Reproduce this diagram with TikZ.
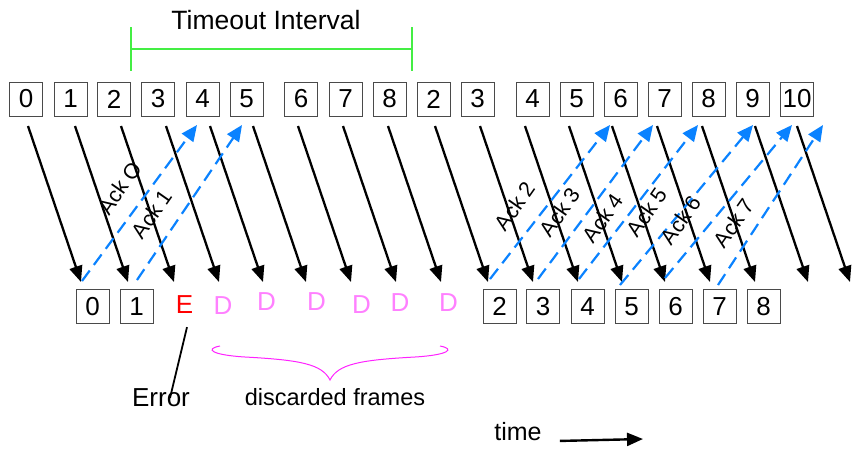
\documentclass[tikz,border=0pt]{standalone}
\usepackage{fontspec}
\setmainfont{Liberation Sans}
\usetikzlibrary{arrows.meta, calc}
\definecolor{ackBlue}{HTML}{0A82FF}
\definecolor{dropPink}{HTML}{FF80FF}
\definecolor{braceMagenta}{HTML}{FF22FF}
\definecolor{timerGreen}{HTML}{44EE44}
\definecolor{frameBorder}{HTML}{4A4A4A}
\tikzset{
  frame/.style={
    draw=frameBorder, line width=0.9pt, inner sep=0pt,
    minimum width=33pt, minimum height=34pt,
    font=\fontsize{26}{28}\selectfont,
  },
  errmark/.style={text=red, inner sep=2pt, font=\fontsize{26}{28}\selectfont},
  discard/.style={text=dropPink, inner sep=2pt, font=\fontsize{26}{28}\selectfont},
  acklabel/.style={rotate=55, inner sep=1pt, font=\fontsize{21.5}{24}\selectfont},
  caption/.style={inner sep=2pt, font=\fontsize{26}{28}\selectfont},
  data/.style={-{Triangle[length=16pt, width=13pt]}, line width=2.3pt},
  ack/.style={-{Triangle[length=16pt, width=14pt]}, line width=2.2pt,
    color=ackBlue, dash pattern=on 13pt off 7pt},
  timer/.style={draw=timerGreen, line width=1.3pt},
}
\begin{document}
\begin{tikzpicture}[x=1pt, y=-1pt]
  \useasboundingbox (0,0) rectangle (854,448);

  % === Timeout interval bracket ===
  \draw[timer] (131,27) -- (131,71) (131,49) -- (412,49) (412,27) -- (412,71);
  \node[caption, font=\fontsize{26.5}{30}\selectfont] (timeout) at (266,20) {Timeout Interval};

  % === Sender: frames sent, with their transit arrows ===
  \foreach \lbl/\xx/\ax [count=\i from 0] in
    {0/26/28, 1/70.5/75, 2/114/121, 3/158/166, 4/202.5/210, 5/246.5/253,
     6/301/298, 7/345.5/343, 8/389.5/388, 2/433.5/435, 3/477.5/480,
     4/532.5/525, 5/576.5/569, 6/620.5/612, 7/664.5/657, 8/708.5/702,
     9/752.5/755, 10/797/797}
  {
    \node[frame] (t\i) at (\xx,99) {\lbl};
    \coordinate (s\i) at (\ax,126);
    \coordinate (e\i) at ($(s\i)+(53,156)$);
    \draw[data] (s\i) -- (e\i);
  }

  % === Receiver: accepted frames ===
  \foreach \lbl/\xx [count=\i from 0] in
    {0/92.5, 1/136.5, 2/499.5, 3/543, 4/587.5, 5/631.5, 6/675.5, 7/719.5, 8/763.5}
    \node[frame] (r\i) at (\xx,306.5) {\lbl};

  % === Damaged frame and the ones thrown away after it ===
  \node[errmark] (bad) at (184.5,305) {E};
  \foreach \xx/\yy [count=\i] in
    {223/305.5, 266.5/302, 316.5/302, 361.5/304.5, 400/303, 448.5/303}
    \node[discard] (d\i) at (\xx,\yy) {D};

  % === Acknowledgements going back ===
  \foreach \n/\sx/\sy/\ex/\lx/\ly in
    {O/82/281/197/120/188, 1/137/280/242/152/214, 2/490/279/610/515/206,
     3/538/279/653/560/212, 4/579/279/698/603/218, 5/620/285/753/647/212,
     6/665/278/792/681/220, 7/718/285/823/734/223}
  {
    \coordinate (as\n) at (\sx,\sy);
    \coordinate (ae\n) at (\ex,125);
    \draw[ack] (as\n) -- (ae\n);
    \node[acklabel] (ack\n) at (\lx,\ly) {Ack \n};
  }

  % === Annotations ===
  \node[caption] (err) at (161,398) {Error};
  \draw[line width=1.8pt] ([xshift=2.5pt, yshift=-11pt]bad.south) -- ([xshift=9pt]err.center);

  \draw[braceMagenta, line width=1pt]
    (220,346) .. controls (204,349) and (212,355) .. (245,357)
    .. controls (300,360) and (322,364) .. (330,380)
    .. controls (338,364) and (360,360) .. (415,357)
    .. controls (448,355) and (456,349) .. (440,346);
  \node[caption, font=\fontsize{23.5}{26}\selectfont] (dropped) at (335,397) {discarded frames};

  \node[caption, font=\fontsize{25}{28}\selectfont] (time) at (518,432) {time};
  \coordinate (timeEnd) at (643,439);
  \draw[data, line width=2.4pt] ([xshift=16pt]time.base east) -- (timeEnd);

\end{tikzpicture}
\end{document}
